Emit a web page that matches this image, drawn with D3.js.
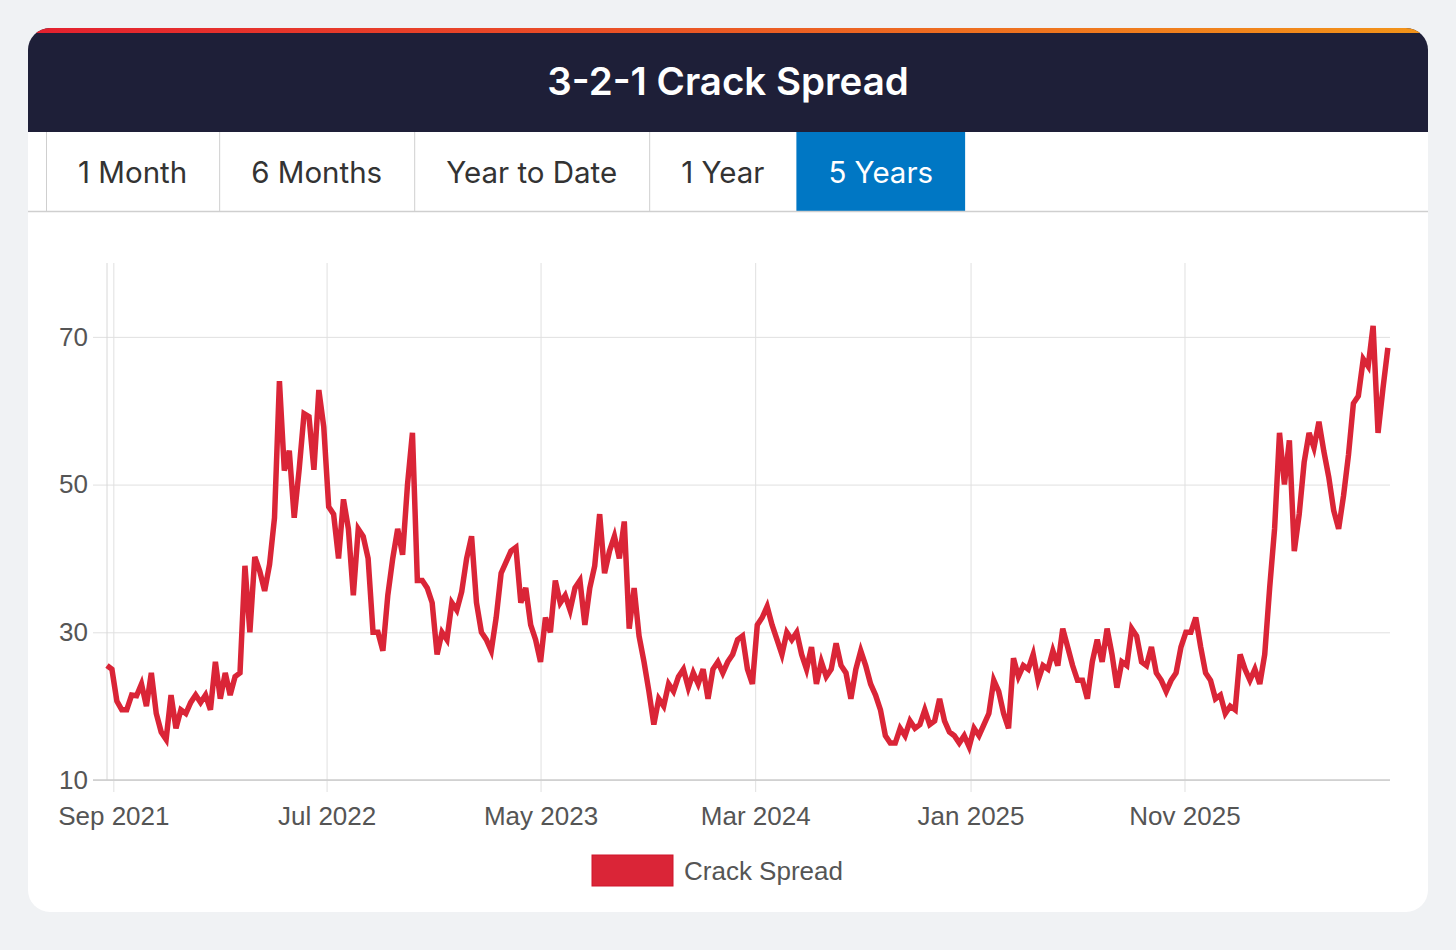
<!DOCTYPE html>
<html>
<head>
<meta charset="utf-8">
<script src="https://cdn.jsdelivr.net/npm/d3@7"></script>
<style>
  body { margin: 0; background: #f0f2f4; }
  svg { display: block; }
</style>
</head>
<body>
<script>
// weekly readings, starting from startDate
const startDate = '2021-08-23';
const endDate = '2026-08-20';
const crackSpread = [
  25.5, 25, 20.7, 19.5, 19.5, 21.5, 21.4, 23, 20, 24.5,
  19, 16.5, 15.5, 21.5, 17, 19.5, 19, 20.5, 21.5, 20.5,
  21.5, 19.5, 26, 21, 24.5, 21.5, 24, 24.5, 39, 30,
  40.2, 38.3, 35.6, 39.2, 45.5, 64, 51.9, 54.6, 45.5, 52,
  59.6, 59.2, 52, 62.8, 57.8, 47,
  46, 40, 48, 44, 35, 44, 43, 40, 30, 30,
  27.5, 35, 40, 44, 40.5, 50, 57, 37, 37, 36,
  34, 27, 30, 29, 34, 33, 35.5, 40, 43, 34,
  30, 29, 27.5, 32, 38, 39.5, 41, 41.5, 34, 36,
  31, 29, 26, 32, 30,
  37, 34, 35, 33, 36, 37, 31, 36, 39, 46,
  38, 41, 43, 40, 45, 30.5, 36, 29.5, 26, 22,
  17.5, 21, 20, 23, 22, 24, 25, 22.5, 24.5, 23,
  25, 21, 25, 26, 24.5, 26, 27, 29, 29.5, 25,
  23, 31, 32, 33.5,
  31, 29, 27, 30, 29, 30, 27, 25, 28, 23,
  26, 24, 25, 28.5, 25.5, 24.5, 21, 25, 27.5, 25.5,
  23, 21.5, 19.5, 16, 15, 15, 17, 16, 18, 17,
  17.5, 19.5, 17.5, 18, 21, 18, 16.5, 16, 15, 16,
  14.5, 17, 16, 17.5, 19,
  23.5, 22, 19, 17, 26.5, 24, 25.5, 25, 27, 23.5,
  25.5, 25, 27.5, 25.5, 30.5, 28, 25.5, 23.5, 23.5, 21,
  26, 29, 26, 30.5, 27, 22.5, 26, 25.5, 30.5, 29.5,
  26, 25.5, 28, 24.5, 23.5, 22, 23.5, 24.5, 28, 30,
  30, 32, 28, 24.5, 23.5,
  21, 21.5, 19, 20, 19.5, 27, 25, 23.5, 25, 23,
  27, 36, 44, 57, 50, 56, 41, 46, 53, 57,
  55, 58.5, 54.5, 51, 46.5, 44, 48.5, 54, 61, 62,
  67, 66, 71.5, 57, 63, 68.5
];
const xTickDates = ['2021-09-01', '2022-07-01', '2023-05-01', '2024-03-01', '2025-01-01', '2025-11-01'];
const xTickLabels = ['Sep 2021', 'Jul 2022', 'May 2023', 'Mar 2024', 'Jan 2025', 'Nov 2025'];
const yTicks = [10, 30, 50, 70];
const tabs = ['1 Month', '6 Months', 'Year to Date', '1 Year', '5 Years'];
const activeTab = '5 Years';
const title = '3-2-1 Crack Spread';
const seriesName = 'Crack Spread';

const width = 1456;
const height = 950;
const red = '#da2537';

const parse = d3.timeParse('%Y-%m-%d');
const t0 = parse(startDate);
const data = crackSpread.map((v, i) => ({ date: d3.timeDay.offset(t0, 7 * i), value: v }));
const tickDates = xTickDates.map(parse);

const svg = d3.select('body').append('svg')
  .attr('width', width)
  .attr('height', height);

const defs = svg.append('defs');
const grad = defs.append('linearGradient').attr('id', 'topbar');
grad.append('stop').attr('offset', '0%').attr('stop-color', '#e3202f');
grad.append('stop').attr('offset', '100%').attr('stop-color', '#f29419');

defs.append('clipPath').attr('id', 'card')
  .append('rect')
  .attr('x', 28).attr('y', 28)
  .attr('width', 1400).attr('height', 884)
  .attr('rx', 22);

// card
const card = svg.append('g').attr('clip-path', 'url(#card)');
card.append('rect')
  .attr('x', 28).attr('y', 28)
  .attr('width', 1400).attr('height', 884)
  .attr('fill', '#fff');

card.append('rect')
  .attr('x', 28).attr('y', 28)
  .attr('width', 1400).attr('height', 104)
  .attr('fill', '#1e1f38');

card.append('rect')
  .attr('x', 28).attr('y', 28)
  .attr('width', 1400).attr('height', 5)
  .attr('fill', 'url(#topbar)');

svg.append('text')
  .attr('x', 728).attr('y', 95)
  .attr('text-anchor', 'middle')
  .attr('fill', '#fff')
  .style('font', '600 38.5px Inter, sans-serif')
  .text(title);

// tabs
const tabRow = svg.append('g');
let tx = 46;
tabs.forEach(label => {
  const g = tabRow.append('g');
  const bg = g.append('rect').attr('y', 132).attr('height', 79);
  const t = g.append('text')
    .attr('y', 183)
    .attr('text-anchor', 'middle')
    .style('font', '400 29.5px Inter, sans-serif')
    .attr('fill', label === activeTab ? '#fff' : '#333')
    .text(label);
  const w = t.node().getComputedTextLength() + 64;
  bg.attr('x', tx).attr('width', w).attr('fill', label === activeTab ? '#0077c4' : '#fff');
  t.attr('x', tx + w / 2);
  if (label !== activeTab) {
    g.append('line')
      .attr('x1', tx + 0.5).attr('x2', tx + 0.5)
      .attr('y1', 132).attr('y2', 211)
      .attr('stroke', '#cfcfcf');
  }
  tx += w;
});
tabRow.append('line')
  .attr('x1', 28).attr('x2', 1428)
  .attr('y1', 211.5).attr('y2', 211.5)
  .attr('stroke', '#cfcfcf').attr('stroke-width', 1.5);

// chart
const plotLeft = 107, plotRight = 1390, plotTop = 263, plotBottom = 780;

const x = d3.scaleTime()
  .domain([t0, parse(endDate)])
  .range([plotLeft, plotRight]);

const y = d3.scaleLinear()
  .domain([10, 80])
  .range([plotBottom, plotTop]);

const xAxis = svg.append('g')
  .attr('transform', `translate(0,${plotBottom})`)
  .call(d3.axisBottom(x)
    .tickValues(tickDates)
    .tickSize(-(plotBottom - plotTop))
    .tickPadding(27)
    .tickFormat((d, i) => xTickLabels[i]));
xAxis.select('.domain').remove();
xAxis.selectAll('.tick line').attr('y1', 12).attr('stroke', '#e0e0e0');
xAxis.selectAll('.tick text')
  .attr('fill', '#555')
  .style('font', '26px "Liberation Sans", Arial, sans-serif');

const yAxis = svg.append('g')
  .attr('transform', `translate(${plotLeft},0)`)
  .call(d3.axisLeft(y)
    .tickValues(yTicks)
    .tickSize(-(plotRight - plotLeft))
    .tickPadding(19));
yAxis.select('.domain').remove();
yAxis.selectAll('.tick line').attr('x1', -14).attr('stroke', '#e0e0e0');
yAxis.selectAll('.tick text')
  .attr('fill', '#555')
  .style('font', '26px "Liberation Sans", Arial, sans-serif');

svg.append('line')
  .attr('x1', plotLeft).attr('x2', plotLeft)
  .attr('y1', plotTop).attr('y2', plotBottom)
  .attr('stroke', '#d8d8d8');
svg.append('line')
  .attr('x1', plotLeft - 14).attr('x2', plotRight)
  .attr('y1', plotBottom).attr('y2', plotBottom)
  .attr('stroke', '#cccccc').attr('stroke-width', 1.5);

const line = d3.line()
  .x(d => x(d.date))
  .y(d => y(d.value));

svg.append('path')
  .datum(data)
  .attr('fill', 'none')
  .attr('stroke', red)
  .attr('stroke-width', 5.5)
  .attr('stroke-linejoin', 'miter')
  .attr('stroke-miterlimit', 4)
  .attr('d', line);

// legend
const legend = svg.append('g').attr('transform', 'translate(592,855)');
legend.append('rect')
  .attr('width', 81).attr('height', 31)
  .attr('fill', red)
  .attr('stroke', '#d0152a').attr('stroke-width', 1);
legend.append('text')
  .attr('x', 92).attr('y', 25)
  .attr('fill', '#555')
  .style('font', '26px "Liberation Sans", Arial, sans-serif')
  .text(seriesName);
</script>
</body>
</html>
